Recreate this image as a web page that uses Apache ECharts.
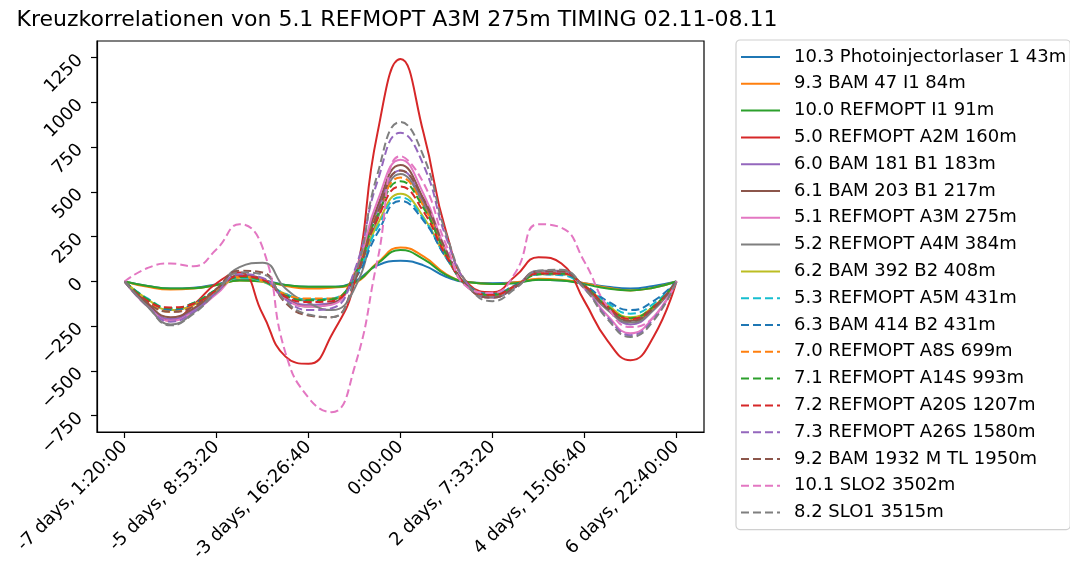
<!DOCTYPE html>
<html>
<head>
<meta charset="utf-8">
<script src="https://cdn.jsdelivr.net/npm/echarts@6/dist/echarts.min.js"></script>
<style>
html,body{margin:0;padding:0;background:#fff;}
#chart{width:1070px;height:565px;}
</style>
</head>
<body>
<div id="chart"></div>
<script>
// ---- data ----
const titleText = "Kreuzkorrelationen von 5.1 REFMOPT A3M 275m TIMING 02.11-08.11";
const xTickPositions = [-3, -2, -1, 0, 1, 2, 3];
const xTickLabels = ["-7 days, 1:20:00", "-5 days, 8:53:20", "-3 days, 16:26:40", "0:00:00", "2 days, 7:33:20", "4 days, 15:06:40", "6 days, 22:40:00"];
const yTicks = [-750, -500, -250, 0, 250, 500, 750, 1000, 1250];
// lag in units of one x tick step (55 h 33 min 20 s)
const lag = [-3, -2.75, -2.5, -2.25, -2, -1.75, -1.5, -1.25, -1, -0.75, -0.5, -0.25, 0, 0.25, 0.5, 0.75, 1, 1.25, 1.5, 1.75, 2, 2.25, 2.5, 2.75, 3];

const seriesNames = [
  "10.3 Photoinjectorlaser 1 43m", "9.3 BAM 47 I1 84m", "10.0 REFMOPT I1 91m", "5.0 REFMOPT A2M 160m",
  "6.0 BAM 181 B1 183m", "6.1 BAM 203 B1 217m", "5.1 REFMOPT A3M 275m", "5.2 REFMOPT A4M 384m",
  "6.2 BAM 392 B2 408m", "5.3 REFMOPT A5M 431m", "6.3 BAM 414 B2 431m", "7.0 REFMOPT A8S 699m",
  "7.1 REFMOPT A14S 993m", "7.2 REFMOPT A20S 1207m", "7.3 REFMOPT A26S 1580m", "9.2 BAM 1932 M TL 1950m",
  "10.1 SLO2 3502m", "8.2 SLO1 3515m"
];
const photoinjector = [0, -25, -40, -35, -15, 10, 5, -20, -30, -30, 0, 90, 115, 90, 25, -5, -10, -5, 10, 5, -10, -30, -40, -25, 0];
const bam47 = [0, -30, -45, -40, -20, 5, 0, -25, -40, -35, -10, 105, 190, 140, 40, -5, -15, -5, 15, 10, -10, -35, -50, -35, 0];
const refI1 = [0, -25, -40, -38, -20, 5, 0, -20, -30, -30, -5, 100, 175, 125, 35, -5, -15, -10, 10, 5, -15, -40, -50, -35, 0];
const refA2M = [0, -120, -220, -130, -10, 50, -180, -420, -460, -300, 0, 830, 1242, 830, 270, -20, -60, 30, 135, 100, -110, -330, -440, -310, 0];
const bam181 = [0, -130, -210, -160, -60, 30, 10, -90, -130, -120, 40, 400, 620, 440, 150, -40, -80, -30, 45, 45, -30, -150, -240, -160, 0];
const bam203 = [0, -125, -200, -150, -55, 35, 15, -95, -140, -125, 40, 420, 650, 460, 160, -40, -85, -30, 50, 50, -30, -150, -220, -150, 0];
const refA3M = [0, -140, -220, -170, -70, 25, 10, -100, -140, -130, 50, 450, 680, 490, 170, -40, -90, -30, 50, 50, -40, -190, -290, -200, 0];
const refA4M = [0, -140, -240, -175, -50, 80, 105, -40, -120, -160, -40, 350, 600, 430, 150, -40, -90, -30, 60, 60, -30, -160, -230, -160, 0];
const bam392 = [0, -100, -160, -130, -50, 20, 0, -70, -100, -100, 30, 320, 490, 360, 130, -30, -70, -25, 40, 40, -25, -130, -200, -140, 0];
const refA5M = [0, -95, -150, -120, -45, 20, 0, -70, -100, -95, 20, 300, 470, 350, 130, -30, -70, -25, 40, 35, -25, -120, -180, -125, 0];
const bam414 = [0, -100, -160, -125, -45, 25, 5, -75, -105, -100, 10, 270, 450, 340, 130, -30, -70, -20, 40, 40, -20, -110, -160, -110, 0];
const refA8S = [0, -110, -170, -135, -50, 25, 5, -75, -95, -95, 40, 380, 580, 420, 150, -35, -75, -25, 45, 45, -25, -140, -210, -145, 0];
const refA14S = [0, -100, -150, -120, -45, 25, 5, -80, -105, -100, 35, 370, 560, 410, 150, -35, -75, -25, 40, 45, -25, -140, -205, -140, 0];
const refA20S = [0, -110, -145, -125, -50, 30, 10, -85, -115, -110, 30, 350, 530, 390, 140, -35, -75, -25, 45, 45, -25, -140, -210, -145, 0];
const refA26S = [0, -140, -225, -170, -60, 40, 20, -100, -160, -150, 60, 560, 830, 650, 240, -30, -90, -30, 55, 55, -40, -200, -300, -210, 0];
const bam1932 = [0, -120, -170, -140, -40, 60, 50, -120, -190, -200, 0, 380, 620, 460, 170, -40, -90, -30, 55, 55, -30, -150, -220, -150, 0];
const slo2 = [0, 75, 100, 85, 180, 320, 190, -400, -650, -730, -480, 120, 700, 550, 200, -40, -65, 50, 320, 300, 110, -140, -255, -200, 0];
const slo1 = [0, -140, -245, -180, -60, 50, 40, -110, -185, -200, 20, 600, 890, 700, 260, -30, -110, -40, 60, 65, -40, -210, -310, -220, 0];

const seriesValues = [photoinjector, bam47, refI1, refA2M, bam181, bam203, refA3M, refA4M, bam392,
  refA5M, bam414, refA8S, refA14S, refA20S, refA26S, bam1932, slo2, slo1];

// ---- styling ----
const palette = ['#1f77b4', '#ff7f0e', '#2ca02c', '#d62728', '#9467bd', '#8c564b', '#e377c2', '#7f7f7f', '#bcbd22', '#17becf'];
const FONT = 'DejaVu Sans';

const series = seriesNames.map((name, i) => {
  const dashed = i >= 9;
  const color = dashed ? palette[(i - 9 + 9) % 10] : palette[i];
  return {
    name: name,
    type: 'line',
    data: lag.map((x, k) => [x, seriesValues[i][k]]),
    symbol: 'none',
    showSymbol: false,
    smooth: 0.5,
    color: color,
    itemStyle: { opacity: 0 },
    lineStyle: { width: 2, color: color, type: dashed ? [8, 4] : 'solid' },
    emphasis: { disabled: true },
    animation: false
  };
});

const chart = echarts.init(document.getElementById('chart'), null, { renderer: 'canvas' });
chart.setOption({
  animation: false,
  backgroundColor: '#fff',
  title: {
    text: titleText,
    left: 397,
    top: 9,
    textAlign: 'center',
    padding: 0,
    textStyle: { fontFamily: FONT, fontSize: 22, fontWeight: 'normal', color: '#000' }
  },
  grid: {
    left: 97, top: 41, right: 366, bottom: 133,
    show: true, borderColor: '#000', borderWidth: 1.2, backgroundColor: 'transparent'
  },
  legend: {
    orient: 'vertical',
    left: 736,
    top: 40,
    padding: [8, 4, 8, 4],
    itemWidth: 39,
    itemHeight: 18,
    itemGap: 8.8,
    borderColor: '#d0d0d0',
    borderWidth: 1.2,
    borderRadius: 4,
    backgroundColor: '#fff',
    itemStyle: { opacity: 0 },
    textStyle: { fontFamily: FONT, fontSize: 18, color: '#000', padding: [0, 0, 0, 9] },
    data: seriesNames
  },
  xAxis: {
    type: 'value',
    min: -3.3,
    max: 3.3,
    splitLine: { show: false },
    axisLine: { show: true, onZero: false, lineStyle: { color: '#000', width: 1.2 } },
    axisTick: { show: true, customValues: xTickPositions, length: 6, lineStyle: { color: '#000', width: 1.2 } },
    axisLabel: {
      customValues: xTickPositions,
      rotate: 45,
      margin: 12,
      fontFamily: FONT, fontSize: 18, color: '#000',
      formatter: function (v) {
        const idx = xTickPositions.indexOf(Math.round(v));
        return idx >= 0 ? xTickLabels[idx] : '';
      }
    }
  },
  yAxis: {
    type: 'value',
    min: -841,
    max: 1343,
    splitLine: { show: false },
    axisLine: { show: true, onZero: false, lineStyle: { color: '#000', width: 1.2 } },
    axisTick: { show: true, customValues: yTicks, length: 6, lineStyle: { color: '#000', width: 1.2 } },
    axisLabel: {
      customValues: yTicks,
      rotate: 45,
      margin: 17,
      fontFamily: FONT, fontSize: 18, color: '#000',
      formatter: function (v) { return v < 0 ? '\u2212' + Math.abs(v) : String(v); }
    }
  },
  tooltip: { show: false },
  series: series
});
</script>
</body>
</html>
